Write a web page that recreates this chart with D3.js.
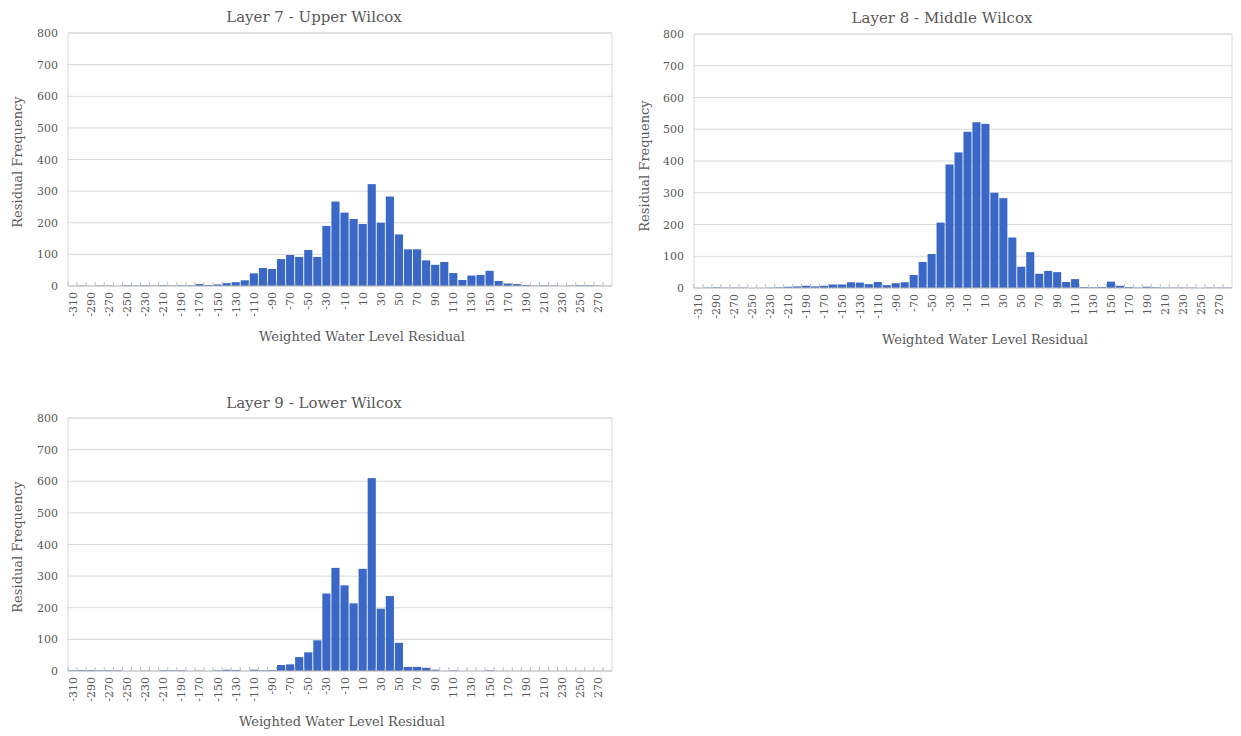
<!DOCTYPE html>
<html>
<head>
<meta charset="utf-8">
<script src="https://cdn.jsdelivr.net/npm/d3@7"></script>
<style>
  html, body { margin: 0; padding: 0; background: #ffffff; }
  svg { display: block; }
  text { font-family: "DejaVu Serif", "Liberation Serif", serif; fill: #595959; }
</style>
</head>
<body>
<svg id="chart" width="1241" height="736"></svg>
<script>
// ---------- DATA ----------
const categories = d3.range(-310, 281, 10); // bins -310 ... 280
const tickLabels = d3.range(-310, 271, 20); // labels shown every other bin
const yTicks = [0, 100, 200, 300, 400, 500, 600, 700, 800];

const titles = ["Layer 7 - Upper Wilcox", "Layer 8 - Middle Wilcox", "Layer 9 - Lower Wilcox"];
const xAxisTitle = "Weighted Water Level Residual";
const yAxisTitle = "Residual Frequency";

// Layer 7 - Upper Wilcox (bins -310 .. 280)
const layer7 = [
  0, 1, 0, 1, 1, 0, 2, 1, 2, 1,            // -310 .. -220
  2, 1, 2, 2, 6, 3, 5, 9, 12, 18,          // -210 .. -120
  40, 57, 54, 85, 98, 92, 114, 92, 190, 267, // -110 .. -20
  232, 212, 196, 322, 200, 283, 163, 116, 116, 81, // -10 .. 80
  67, 76, 41, 19, 33, 35, 48, 16, 8, 6,    // 90 .. 180
  3, 1, 2, 1, 0, 1, 2, 2, 1, 0             // 190 .. 280
];
// Layer 8 - Middle Wilcox
const layer8 = [
  0, 1, 2, 1, 1, 1, 0, 0, 1, 2,
  4, 5, 7, 5, 7, 11, 11, 18, 17, 12,
  19, 9, 15, 18, 41, 82, 107, 206, 389, 427,
  492, 522, 517, 300, 283, 159, 67, 113, 45, 54,
  50, 19, 28, 3, 2, 3, 20, 7, 3, 1,
  4, 2, 1, 1, 1, 1, 0, 1, 1, 1
];
// Layer 9 - Lower Wilcox
const layer9 = [
  2, 3, 3, 2, 2, 2, 0, 0, 1, 0,
  2, 2, 2, 0, 1, 0, 2, 4, 3, 0,
  4, 2, 3, 19, 21, 44, 59, 97, 245, 326,
  271, 214, 323, 610, 197, 237, 89, 13, 13, 10,
  4, 0, 2, 0, 0, 0, 2, 0, 0, 0,
  0, 0, 0, 0, 0, 0, 0, 0, 0, 0
];
const seriesList = [layer7, layer8, layer9];

// ---------- LAYOUT ----------
const layouts = [
  { x0: 68,  x1: 612,  y0: 33,  y1: 286, titleX: 314, titleY: 18,  yTitleX: 18,  yTitleY: 162, xTitleX: 362, xTitleY: 337 },
  { x0: 694, x1: 1232, y0: 34,  y1: 288, titleX: 942, titleY: 19,  yTitleX: 645, yTitleY: 166, xTitleX: 985, xTitleY: 340 },
  { x0: 68,  x1: 612,  y0: 418, y1: 671, titleX: 314, titleY: 404, yTitleX: 18,  yTitleY: 547, xTitleX: 342, xTitleY: 722 }
];

const barColor = "#3a68c6";
const gridColor = "#d9d9d9";
const svg = d3.select("#chart");

layouts.forEach((L, k) => {
  const data = categories.map((c, i) => ({ c, v: seriesList[k][i] }));
  const g = svg.append("g");

  const x = d3.scaleBand().domain(categories).range([L.x0, L.x1]).paddingInner(0.1).paddingOuter(0.05);
  const y = d3.scaleLinear().domain([0, 800]).range([L.y1, L.y0]);

  // gridlines
  g.append("g")
    .selectAll("line")
    .data(yTicks.filter(t => t > 0))
    .join("line")
    .attr("x1", L.x0).attr("x2", L.x1)
    .attr("y1", d => y(d)).attr("y2", d => y(d))
    .attr("stroke", gridColor).attr("stroke-width", 1);

  // plot border
  g.append("rect")
    .attr("x", L.x0).attr("y", L.y0)
    .attr("width", L.x1 - L.x0).attr("height", L.y1 - L.y0)
    .attr("fill", "none").attr("stroke", gridColor).attr("stroke-width", 1);

  // bars
  g.append("g")
    .selectAll("rect")
    .data(data)
    .join("rect")
    .attr("x", d => x(d.c))
    .attr("width", x.bandwidth())
    .attr("y", d => y(d.v))
    .attr("height", d => y(0) - y(d.v))
    .attr("fill", barColor);

  // x axis baseline + boundary ticks
  const step = x.step();
  g.append("line")
    .attr("x1", L.x0).attr("x2", L.x1)
    .attr("y1", y(0)).attr("y2", y(0))
    .attr("stroke", "#bfbfbf").attr("stroke-width", 1);
  g.append("g")
    .selectAll("line")
    .data(categories)
    .join("line")
    .attr("x1", d => x(d) - step * x.paddingInner() / 2)
    .attr("x2", d => x(d) - step * x.paddingInner() / 2)
    .attr("y1", y(0)).attr("y2", y(0) - 4)
    .attr("stroke", "#bfbfbf").attr("stroke-width", 1);

  // x tick labels (rotated)
  g.append("g")
    .selectAll("text")
    .data(tickLabels)
    .join("text")
    .attr("transform", d => `translate(${x(d) + x.bandwidth() / 2 + 4},${y(0) + 6}) rotate(-90)`)
    .attr("text-anchor", "end")
    .attr("font-size", 11)
    .text(d => d);

  // y axis labels
  const yAxis = d3.axisLeft(y).tickValues(yTicks).tickSize(0).tickPadding(10);
  const ya = g.append("g").attr("transform", `translate(${L.x0},0)`).call(yAxis);
  ya.select(".domain").remove();
  ya.selectAll("text")
    .attr("font-family", "DejaVu Serif, Liberation Serif, serif")
    .attr("font-size", 11)
    .attr("fill", "#595959");

  // titles
  g.append("text")
    .attr("x", L.titleX).attr("y", L.titleY)
    .attr("text-anchor", "middle").attr("dominant-baseline", "middle")
    .attr("font-size", 15)
    .text(titles[k]);

  g.append("text")
    .attr("x", L.xTitleX).attr("y", L.xTitleY)
    .attr("text-anchor", "middle").attr("dominant-baseline", "middle")
    .attr("font-size", 13)
    .text(xAxisTitle);

  g.append("text")
    .attr("transform", `translate(${L.yTitleX},${L.yTitleY}) rotate(-90)`)
    .attr("text-anchor", "middle").attr("dominant-baseline", "middle")
    .attr("font-size", 13)
    .text(yAxisTitle);
});
</script>
</body>
</html>
